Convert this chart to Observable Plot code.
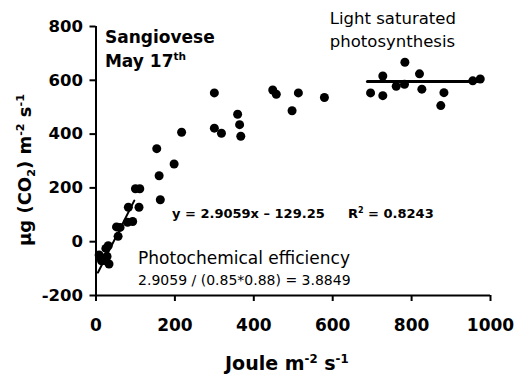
<!DOCTYPE html>
<html><head><meta charset="utf-8">
<script src="https://cdn.jsdelivr.net/npm/d3@7"></script>
<script src="https://cdn.jsdelivr.net/npm/@observablehq/plot@0.6"></script>
<style>body{margin:0;background:#fff} svg{display:block}</style>
</head><body><div id="chart"></div>
<script>
// ---- data ----
const irradiance = [100, 111, 82, 109, 80, 93, 52, 61, 56, 31, 25, 8, 14, 20, 33, 28, 22, 12,
  300, 300, 318, 359, 364, 367, 217, 198, 154, 160, 163, 448, 457, 513, 497, 579,
  696, 727, 727, 761, 783, 782, 820, 826, 882, 874, 955, 974];
const assimilation = [197, 197, 128, 128, 72, 75, 55, 53, 20, -15, -25, -49, -71, -65, -83, -55, -70, -60,
  553, 422, 403, 474, 435, 392, 407, 289, 346, 245, 156, 564, 548, 553, 487, 536,
  553, 616, 543, 578, 667, 585, 624, 567, 554, 506, 598, 605];
const xTicks = [0, 200, 400, 600, 800, 1000];
const yTicks = [-200, 0, 200, 400, 600, 800];
const fitSlope = 2.9059, fitIntercept = -129.25;
const fitRange = [5, 97];
const plateauRange = [688, 970];
const plateauLevel = 596;

const points = irradiance.map((x, i) => ({x, y: assimilation[i]}));
const fitLine = fitRange.map(x => ({x, y: fitSlope * x + fitIntercept}));
const plateau = plateauRange.map(x => ({x, y: plateauLevel}));

const FONT = "'DejaVu Sans', 'Liberation Sans', Arial, sans-serif";

const chart = Plot.plot({
  width: 522, height: 380,
  marginLeft: 95.5, marginRight: 32, marginTop: 26, marginBottom: 85,
  style: {fontFamily: FONT, background: "#fff", color: "#000", overflow: "visible"},
  x: {domain: [0, 1000], label: null},
  y: {domain: [-200, 800], label: null},
  marks: [
    Plot.axisY({ticks: yTicks, tickSize: 6, tickPadding: 7, tickFormat: d => String(d), strokeWidth: 2, fontSize: 16.5, fontWeight: "bold", label: null}),
    Plot.axisX({ticks: xTicks, tickSize: 6, tickPadding: 17, tickFormat: d => String(d), strokeWidth: 2, fontSize: 17, fontWeight: "bold", label: null}),
    Plot.ruleX([0], {strokeWidth: 2}),
    Plot.ruleY([-200], {strokeWidth: 2}),
    Plot.line(fitLine, {x: "x", y: "y", strokeWidth: 2}),
    Plot.line(plateau, {x: "x", y: "y", strokeWidth: 3}),
    Plot.dot(points, {x: "x", y: "y", r: 4.5, fill: "#000", stroke: null})
  ]
});
document.getElementById("chart").appendChild(chart);

// ---- annotations with sub/superscripts ----
const sx = chart.scale("x"), sy = chart.scale("y");
const svg = d3.select(chart);

function rich(x, y, parts, size, weight, anchor, rotate) {
  const t = svg.append("text")
    .attr("font-family", FONT).attr("font-size", size).attr("font-weight", weight)
    .attr("fill", "#000").attr("text-anchor", anchor || "start");
  if (rotate) t.attr("transform", `translate(${x},${y}) rotate(-90)`);
  else t.attr("x", x).attr("y", y);
  let shift = 0;
  for (const [str, mode] of parts) {
    const target = mode === "sup" ? -0.38 * size : mode === "sub" ? 0.22 * size : 0;
    t.append("tspan").attr("dy", target - shift)
      .attr("font-size", mode ? size * 0.62 : size)
      .text(str);
    shift = target;
  }
  return t;
}

rich(sx.apply(24), sy.apply(738), [["Sangiovese"]], 17, "bold");
rich(sx.apply(24), sy.apply(649), [["May 17"], ["th", "sup"]], 17, "bold");
rich(sx.apply(594), sy.apply(809), [["Light saturated"]], 16.5, "normal");
rich(sx.apply(594), sy.apply(723), [["photosynthesis"]], 16.5, "normal");
rich(sx.apply(194), sy.apply(87), [["y = 2.9059x \u2013 129.25"]], 13, "bold");
rich(sx.apply(640), sy.apply(87), [["R"], ["2", "sup"], [" = 0.8243"]], 13, "bold");
rich(sx.apply(108), sy.apply(-85), [["Photochemical efficiency"]], 17, "normal");
rich(sx.apply(108), sy.apply(-163), [["2.9059 / (0.85*0.88) = 3.8849"]], 14, "normal");

// axis titles
rich(sx.apply(485), 370, [["Joule m"], ["-2", "sup"], [" s"], ["-1", "sup"]], 19, "bold", "middle");
rich(31, 170, [["\u00b5g (CO"], ["2", "sub"], [") m"], ["-2", "sup"], [" s"], ["-1", "sup"]], 18, "bold", "middle", true);
</script>
</body></html>
